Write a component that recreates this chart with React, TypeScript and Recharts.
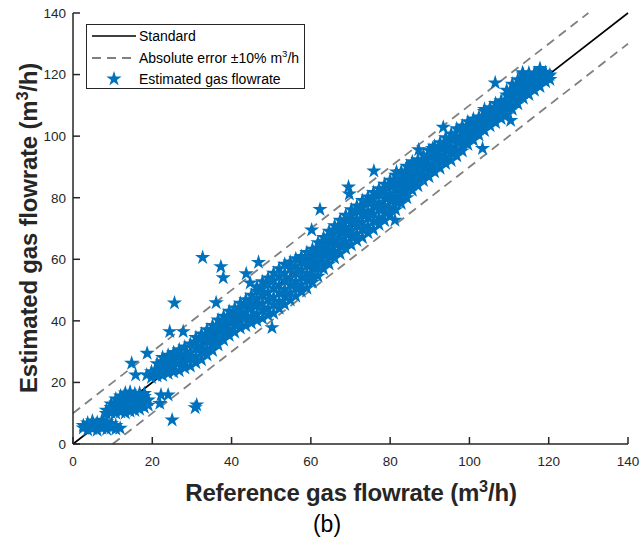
import React from "react";
import {
  ScatterChart,
  Scatter,
  XAxis,
  YAxis,
  ReferenceLine,
  Legend,
  Symbols,
} from "recharts";

const axisTicks = [0, 20, 40, 60, 80, 100, 120, 140];

// rows are [reference, estimated, estimated, ...] (m3/h)
const lowClusterA = [
  [2.6, 5.2, 6.0],
  [3.7, 4.6, 5.9, 6.8],
  [4.9, 5.0, 6.3, 7.5],
  [6.1, 4.5, 5.8, 7.0],
  [7.3, 5.1, 6.5, 7.7],
  [8.5, 4.8, 6.1, 7.2],
  [9.7, 5.3, 6.7],
  [10.8, 4.9, 6.0],
];

const lowClusterB = [
  [8.4, 9.9, 11.0],
  [9.6, 10.2, 11.9, 13.0],
  [10.8, 10.0, 11.6, 13.3, 14.6],
  [12.0, 10.4, 12.1, 13.8, 15.6],
  [13.2, 10.1, 11.9, 13.6, 15.3, 16.6],
  [14.4, 10.6, 12.4, 14.2, 15.9, 16.9],
  [15.6, 10.9, 12.7, 14.5, 16.3],
  [16.8, 11.3, 13.1, 14.9, 16.5],
  [18.0, 11.9, 13.6, 15.4, 16.4],
  [19.0, 12.6, 14.3],
];

const bandLow = [
  [19.8, 21.6, 23.5],
  [21.2, 22.1, 24.0, 26.1],
  [22.6, 22.3, 24.6, 26.7, 28.1],
  [24.0, 22.9, 25.2, 27.4, 28.8],
  [25.4, 23.4, 25.5, 27.8, 29.7],
  [26.8, 23.8, 26.3, 28.5, 30.6],
  [28.2, 24.7, 26.8, 29.2, 31.5],
  [29.6, 25.3, 27.7, 29.9, 32.5],
  [31.0, 26.4, 28.4, 30.9, 33.1, 34.6],
  [32.4, 27.4, 29.8, 31.9, 34.4, 35.7],
  [33.8, 28.9, 30.9, 33.3, 35.5, 37.1],
  [35.2, 30.4, 32.7, 34.8, 37.2, 38.5],
  [36.6, 32.2, 34.2, 36.5, 38.4, 40.3],
  [38.0, 33.8, 35.9, 37.8, 40.1, 41.5],
  [39.4, 35.3, 37.2, 39.6, 41.5, 43.1],
  [40.8, 36.3, 38.7, 40.6, 43.0, 44.2],
  [42.2, 37.7, 39.8, 42.1, 44.1, 45.7],
  [43.6, 38.4, 40.9, 43.0, 45.4, 46.9],
  [45.0, 39.3, 41.5, 44.1, 46.2, 48.3],
  [46.4, 40.1, 42.3, 45.0, 47.3, 49.7, 51.1],
  [47.8, 40.8, 43.4, 45.7, 48.4, 50.6, 52.7],
  [49.2, 41.8, 44.1, 46.9, 49.3, 52.0, 53.9],
  [50.6, 42.5, 45.2, 47.7, 50.6, 53.1, 55.5],
  [52.0, 44.1, 46.3, 49.1, 51.6, 54.5, 56.9],
  [53.4, 45.3, 47.9, 50.2, 53.0, 55.5, 58.4],
  [54.8, 46.8, 49.1, 51.7, 54.0, 56.9, 59.1],
  [56.2, 48.0, 50.6, 52.8, 55.5, 57.8, 60.2],
  [57.6, 49.6, 51.7, 54.3, 56.6, 59.1, 60.9],
  [59.0, 50.6, 53.2, 55.4, 58.0, 60.1, 62.2],
];

const bandMid = [
  [60.4, 52.5, 54.6, 57.1, 59.2, 61.6, 63.3],
  [61.8, 54.5, 57.0, 59.1, 61.5, 63.5, 65.4],
  [63.2, 56.9, 59.0, 61.4, 63.4, 65.8, 67.1],
  [64.6, 58.5, 61.0, 63.1, 65.5, 67.5, 69.1],
  [66.0, 60.4, 62.5, 65.0, 67.0, 69.4, 70.9],
  [67.4, 61.8, 64.3, 66.4, 68.9, 70.9, 72.7],
  [68.8, 63.5, 65.7, 68.2, 70.3, 72.8, 74.3],
  [70.2, 64.7, 67.3, 69.4, 72.0, 74.1, 76.1],
  [71.6, 66.1, 68.3, 70.9, 73.1, 75.7, 77.3],
  [73.0, 67.1, 69.7, 72.0, 74.6, 76.8, 79.1],
  [74.4, 68.6, 70.8, 73.5, 75.7, 78.4, 80.2],
  [75.8, 69.7, 72.4, 74.7, 77.3, 79.5, 81.7],
  [77.2, 71.3, 73.5, 76.2, 78.4, 81.0, 82.9],
  [78.6, 72.6, 75.2, 77.4, 80.0, 82.2, 84.4],
  [80.0, 74.5, 76.6, 79.1, 81.3, 83.8, 85.7],
  [81.4, 76.1, 78.6, 80.6, 83.1, 85.1, 87.3],
  [82.8, 78.1, 80.2, 82.6, 84.6, 87.0, 88.5],
  [84.2, 80.0, 82.4, 84.4, 86.7, 88.6, 90.2],
  [85.6, 82.4, 84.3, 86.6, 88.5, 90.8, 91.7],
  [87.0, 83.9, 86.2, 88.1, 90.4, 92.3],
  [88.4, 85.6, 87.5, 89.8, 91.7, 93.8],
  [89.8, 86.8, 89.1, 91.0, 93.3, 95.4],
];

const bandHigh = [
  [91.2, 88.4, 90.3, 92.6, 94.5, 96.7],
  [92.6, 89.6, 91.9, 93.8, 96.1, 97.9],
  [94.0, 91.1, 93.1, 95.4, 97.3, 99.5],
  [95.4, 92.1, 94.5, 96.5, 98.9, 100.7],
  [96.8, 93.6, 95.6, 98.0, 100.0, 102.4],
  [98.2, 95.2, 97.5, 99.4, 101.7, 103.3],
  [99.6, 97.3, 99.1, 101.3, 103.1, 104.7],
  [101.0, 98.7, 100.9, 102.7, 104.8, 105.6],
  [102.4, 100.4, 102.2, 104.4, 106.2],
  [103.8, 101.8, 104.0, 105.8, 108.0, 108.7],
  [105.2, 103.4, 105.2, 107.4, 109.2],
  [106.6, 104.4, 106.6, 108.4, 110.6],
  [108.0, 105.7, 107.5, 109.7, 111.5],
  [109.4, 106.9, 109.2, 111.1, 113.4, 114.9],
  [110.8, 108.7, 110.6, 112.9, 114.8, 116.9],
  [112.2, 110.5, 112.7, 114.5, 116.7, 118.3],
  [113.6, 112.3, 114.1, 116.3, 118.1, 119.9],
  [115.0, 113.5, 115.7, 117.5, 119.7, 120.5],
  [116.4, 114.9, 116.7, 118.9, 120.4],
  [117.8, 116.1, 118.3, 119.9, 121.4],
  [119.2, 117.7, 119.1, 120.7],
  [120.3, 118.4, 119.9],
];

// isolated stars outside the main band
const outliers = [
  [11.9, 5.1], [14.8, 26.2], [15.8, 22.4], [18.6, 22.4], [18.7, 29.5],
  [21.9, 13.2], [22.2, 15.9], [24.0, 15.9], [25.0, 7.8], [30.8, 11.8],
  [31.2, 12.7], [24.4, 36.5], [27.8, 36.5], [25.6, 45.8], [36.1, 45.9],
  [32.7, 60.6], [37.3, 57.6], [37.9, 54.0], [43.7, 55.3], [44.7, 52.3],
  [46.8, 59.0], [50.2, 37.8], [60.2, 69.5], [62.3, 76.2], [69.5, 83.5],
  [69.7, 81.2], [75.9, 88.7], [81.2, 72.7], [81.6, 88.4], [87.2, 95.6],
  [90.7, 96.0], [93.4, 102.9], [103.3, 96.0], [106.5, 117.3], [110.4, 105.1],
  [113.4, 120.6], [117.8, 122.0], [119.9, 119.3],
];

const toPoints = (rows: number[][]) =>
  rows.flatMap(([x, ...ys]) => ys.map((y) => ({ x, y })));

const points = [
  ...toPoints(lowClusterA),
  ...toPoints(lowClusterB),
  ...toPoints(bandLow),
  ...toPoints(bandMid),
  ...toPoints(bandHigh),
  ...outliers.map(([x, y]) => ({ x, y })),
];

const FONT = '"Liberation Sans", Arial, Helvetica, sans-serif';
const AXIS = "#262626";
const BLUE = "#0072BD";
const STAR_SIZE = 72;
const TICK_LEN = 7;

const Cube = () => (
  <span style={{ fontSize: "0.68em", position: "relative", top: "-0.55em" }}>3</span>
);

const StarMark = ({ cx, cy }: any) => (
  <Symbols type="star" size={STAR_SIZE} cx={cx} cy={cy} fill={BLUE} />
);

// matlab style: ticks point into the plot box
const BottomTick = ({ x, y, payload }: any) => (
  <g>
    <line x1={x} x2={x} y1={y} y2={y - TICK_LEN} stroke={AXIS} strokeWidth={1.5} />
    <text x={x} y={y + 22} textAnchor="middle" fill={AXIS} fontSize={13.5} fontFamily={FONT}>
      {payload.value}
    </text>
  </g>
);

const LeftTick = ({ x, y, payload }: any) => (
  <g>
    <line x1={x} x2={x + TICK_LEN} y1={y} y2={y} stroke={AXIS} strokeWidth={1.5} />
    <text x={x - 7} y={y + 4.8} textAnchor="end" fill={AXIS} fontSize={13.5} fontFamily={FONT}>
      {payload.value}
    </text>
  </g>
);

const TopTick = ({ x, y }: any) => (
  <line x1={x} x2={x} y1={y} y2={y + TICK_LEN} stroke={AXIS} strokeWidth={1.5} />
);

const RightTick = ({ x, y }: any) => (
  <line x1={x} x2={x - TICK_LEN} y1={y} y2={y} stroke={AXIS} strokeWidth={1.5} />
);

const LegendBox = () => (
  <div
    style={{
      width: 219,
      height: 65,
      boxSizing: "border-box",
      border: `1.5px solid ${AXIS}`,
      background: "#fff",
      position: "relative",
      fontFamily: FONT,
      fontSize: 14,
      lineHeight: "16px",
      color: "#000",
    }}
  >
    <svg width={60} height={63} style={{ position: "absolute", left: 0, top: 0 }}>
      <line x1={5} x2={49} y1={11} y2={11} stroke="#000" strokeWidth={1.6} />
      <line x1={5} x2={49} y1={33} y2={33} stroke="#808080" strokeWidth={1.8} strokeDasharray="9 6" />
      <Symbols type="star" size={STAR_SIZE} cx={27} cy={54} fill={BLUE} />
    </svg>
    <div style={{ position: "absolute", left: 52, top: 3 }}>Standard</div>
    <div style={{ position: "absolute", left: 52, top: 24.5 }}>
      Absolute error ±10% m<Cube />/h
    </div>
    <div style={{ position: "absolute", left: 52, top: 46 }}>Estimated gas flowrate</div>
  </div>
);

const titleStyle: React.CSSProperties = {
  position: "absolute",
  width: 420,
  height: 28,
  textAlign: "center",
  fontSize: 24,
  letterSpacing: "-0.2px",
  fontWeight: "bold",
  color: AXIS,
  lineHeight: "28px",
  whiteSpace: "nowrap",
};

export default function App() {
  return (
    <div
      style={{
        position: "absolute",
        left: 0,
        top: 0,
        width: 641,
        height: 553,
        background: "#fff",
        fontFamily: FONT,
      }}
    >
      <ScatterChart
        width={641}
        height={553}
        margin={{ top: 13, right: 13, left: 23, bottom: 79 }}
      >
        <XAxis
          xAxisId="bottom"
          dataKey="x"
          type="number"
          domain={[0, 140]}
          ticks={axisTicks}
          allowDataOverflow
          height={30}
          tickLine={false}
          tickSize={0}
          tickMargin={0}
          stroke={AXIS}
          strokeWidth={1.5}
          tick={<BottomTick />}
        />
        <XAxis
          xAxisId="top"
          orientation="top"
          type="number"
          domain={[0, 140]}
          ticks={axisTicks}
          allowDataOverflow
          height={0}
          tickLine={false}
          tickSize={0}
          tickMargin={0}
          stroke={AXIS}
          strokeWidth={1.5}
          tick={<TopTick />}
        />
        <YAxis
          yAxisId="left"
          dataKey="y"
          type="number"
          domain={[0, 140]}
          ticks={axisTicks}
          allowDataOverflow
          width={50}
          tickLine={false}
          tickSize={0}
          tickMargin={0}
          stroke={AXIS}
          strokeWidth={1.5}
          tick={<LeftTick />}
        />
        <YAxis
          yAxisId="right"
          orientation="right"
          type="number"
          domain={[0, 140]}
          ticks={axisTicks}
          allowDataOverflow
          width={0}
          tickLine={false}
          tickSize={0}
          tickMargin={0}
          stroke={AXIS}
          strokeWidth={1.5}
          tick={<RightTick />}
        />
        <ReferenceLine
          xAxisId="bottom"
          yAxisId="left"
          segment={[{ x: 0, y: 0 }, { x: 140, y: 140 }]}
          stroke="#000"
          strokeWidth={1.6}
        />
        <ReferenceLine
          xAxisId="bottom"
          yAxisId="left"
          segment={[{ x: 0, y: 10 }, { x: 130, y: 140 }]}
          stroke="#808080"
          strokeWidth={1.8}
          strokeDasharray="9 6"
        />
        <ReferenceLine
          xAxisId="bottom"
          yAxisId="left"
          segment={[{ x: 10, y: 0 }, { x: 140, y: 130 }]}
          stroke="#808080"
          strokeWidth={1.8}
          strokeDasharray="9 6"
        />
        <Scatter
          xAxisId="bottom"
          yAxisId="left"
          name="Estimated gas flowrate"
          data={points}
          shape={<StarMark />}
          fill={BLUE}
          isAnimationActive={false}
        />
        <Legend
          layout="horizontal"
          verticalAlign="middle"
          align="center"
          content={<LegendBox />}
          wrapperStyle={{ left: 86, top: 24, width: 219, height: 65 }}
        />
      </ScatterChart>

      <div style={{ ...titleStyle, left: 141, top: 479 }}>
        Reference gas flowrate (m<Cube />/h)
      </div>
      <div
        style={{
          ...titleStyle,
          left: 29 - 210,
          top: 228 - 14,
          transform: "rotate(-90deg)",
        }}
      >
        Estimated gas flowrate (m<Cube />/h)
      </div>
      <div
        style={{
          position: "absolute",
          left: 277,
          top: 511,
          width: 100,
          textAlign: "center",
          fontSize: 23,
          color: "#000",
          lineHeight: "26px",
        }}
      >
        (b)
      </div>
    </div>
  );
}
